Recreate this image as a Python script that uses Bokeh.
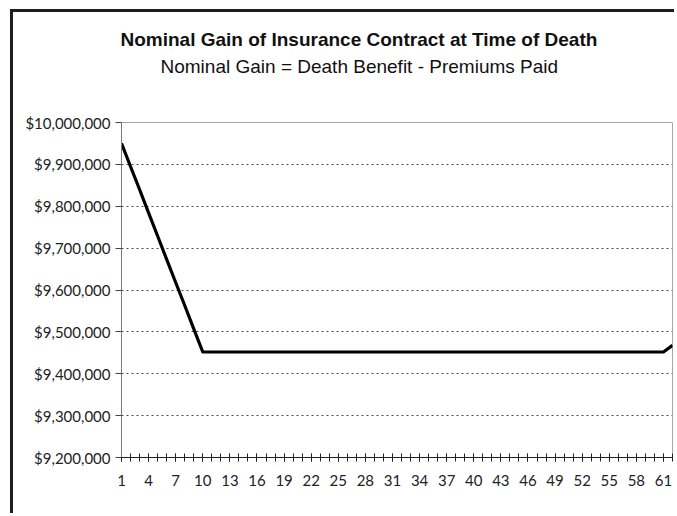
from bokeh.plotting import figure
from bokeh.models import (Range1d, FixedTicker, NumeralTickFormatter, Title,
                          ColumnDataSource)
from bokeh.embed import file_html
from bokeh.resources import INLINE

# Policy year at time of death
years = list(range(1, 63))

# Nominal gain (death benefit minus premiums paid), by year of death
gain = [
    9950000, 9895000, 9840000, 9784000, 9729000, 9673000, 9618000, 9563000, 9507000, 9452000,
    9452000, 9452000, 9452000, 9452000, 9452000, 9452000, 9452000, 9452000, 9452000, 9452000,
    9452000, 9452000, 9452000, 9452000, 9452000, 9452000, 9452000, 9452000, 9452000, 9452000,
    9452000, 9452000, 9452000, 9452000, 9452000, 9452000, 9452000, 9452000, 9452000, 9452000,
    9452000, 9452000, 9452000, 9452000, 9452000, 9452000, 9452000, 9452000, 9452000, 9452000,
    9452000, 9452000, 9452000, 9452000, 9452000, 9452000, 9452000, 9452000, 9452000, 9452000,
    9452000, 9468000,
]

# Axis ticks
x_label_ticks = list(range(1, 62, 3))
y_ticks = [9200000, 9300000, 9400000, 9500000, 9600000, 9700000, 9800000, 9900000, 10000000]
y_grid_ticks = y_ticks[1:-1]

title_text = "Nominal Gain of Insurance Contract at Time of Death"
subtitle_text = "Nominal Gain = Death Benefit - Premiums Paid"

src = ColumnDataSource(data=dict(year=years, gain=gain))

p = figure(
    width=664, height=504,
    x_range=Range1d(1, 62), y_range=Range1d(9200000, 10000000),
    output_backend="svg", toolbar_location=None,
    min_border_left=108, min_border_right=5, min_border_bottom=59, min_border_top=110,
)
p.title.visible = False

# chart-area frame: only its left and top edges fall within the page
p.styles = {
    "margin-left": "10px", "margin-top": "9px",
    "border-left": "3px solid #1e1e1e", "border-top": "3px solid #1e1e1e",
}

# blank panel that keeps the headings clear of the plot area
spacer = Title(text=" ", text_font_size="1px", standoff=41)
p.add_layout(spacer, "above")

sub = Title(text=subtitle_text, align="left", offset=39,
            text_font="Liberation Sans", text_font_size="19px",
            text_font_style="normal", text_color="#111111", standoff=4)
p.add_layout(sub, "above")
main = Title(text=title_text, align="left", offset=-1,
             text_font="Liberation Sans", text_font_size="19px",
             text_font_style="bold", text_color="#111111", standoff=3)
p.add_layout(main, "above")

p.background_fill_color = "white"
p.border_fill_color = "white"
p.outline_line_color = "#a8a8a8"
p.outline_line_width = 1

# y axis
p.yaxis.ticker = FixedTicker(ticks=y_ticks)
p.yaxis.formatter = NumeralTickFormatter(format="$0,0")
p.yaxis.axis_line_color = "#7a7a7a"
p.yaxis.major_tick_line_color = "#444444"
p.yaxis.major_tick_in = 0
p.yaxis.major_tick_out = 6
p.yaxis.minor_tick_line_color = None
p.yaxis.major_label_standoff = 5
p.yaxis.major_label_text_font = "Lato"
p.yaxis.major_label_text_font_size = "15px"
p.yaxis.major_label_text_color = "#222222"

# x axis (category-style ticks at every year, labels every third)
p.xaxis.ticker = FixedTicker(ticks=x_label_ticks, minor_ticks=years)
p.xaxis.axis_line_color = "#222222"
p.xaxis.axis_line_width = 1
p.xaxis.major_tick_line_color = "#222222"
p.xaxis.minor_tick_line_color = "#222222"
p.xaxis.major_tick_in = 4
p.xaxis.major_tick_out = 4
p.xaxis.minor_tick_in = 4
p.xaxis.minor_tick_out = 4
p.xaxis.major_label_standoff = 13
p.xaxis.major_label_text_font = "Lato"
p.xaxis.major_label_text_font_size = "15px"
p.xaxis.major_label_text_color = "#222222"

p.xgrid.visible = False
p.ygrid.ticker = FixedTicker(ticks=y_grid_ticks)
p.ygrid.grid_line_color = "#4a4a4a"
p.ygrid.grid_line_dash = "2 3"
p.ygrid.grid_line_width = 1

p.line("year", "gain", source=src, line_color="black", line_width=3.2,
       line_join="round")

open("out.html", "w").write(file_html(p, INLINE))
